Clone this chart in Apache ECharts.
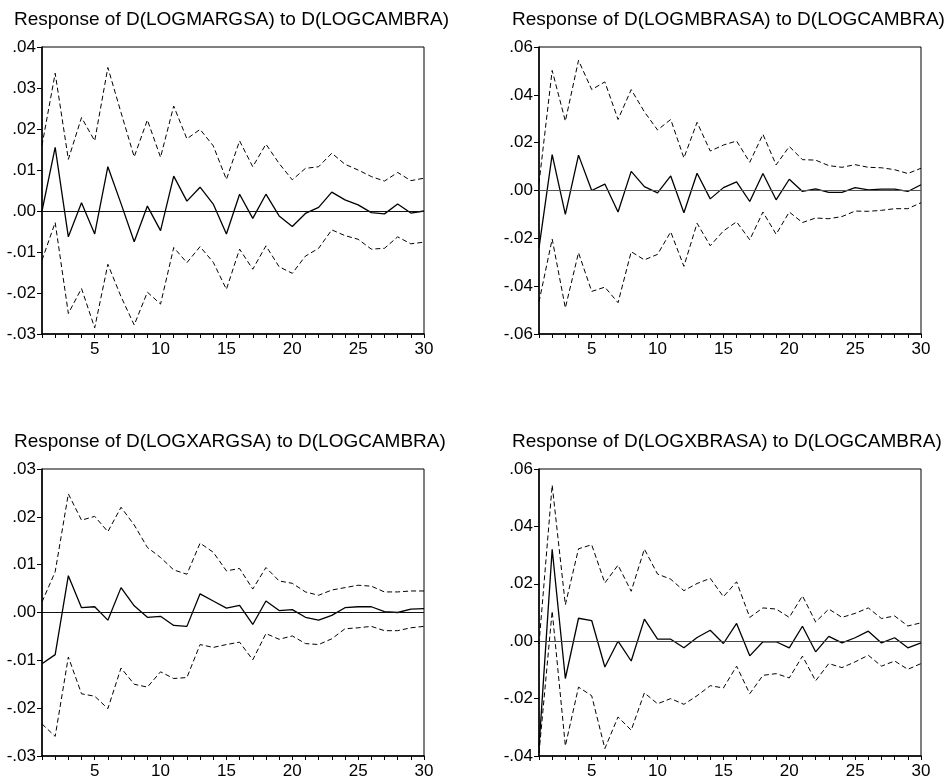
<!DOCTYPE html>
<html>
<head>
<meta charset="UTF-8">
<title>Impulse responses</title>
<style>
  html, body { margin: 0; padding: 0; background: #fff; }
  #container { width: 951px; height: 782px; }
</style>
<script src="https://cdn.jsdelivr.net/npm/echarts@6/dist/echarts.min.js"></script>
</head>
<body>
<div id="container"></div>
<script>
var periods = [1, 2, 3, 4, 5, 6, 7, 8, 9, 10, 11, 12, 13, 14, 15, 16, 17, 18, 19, 20, 21, 22, 23, 24, 25, 26, 27, 28, 29, 30];

var titles = [
  'Response of D(LOGMARGSA) to D(LOGCAMBRA)',
  'Response of D(LOGMBRASA) to D(LOGCAMBRA)',
  'Response of D(LOGXARGSA) to D(LOGCAMBRA)',
  'Response of D(LOGXBRASA) to D(LOGCAMBRA)'
];

// D(LOGMARGSA)
var irfMarg = [0.0000, 0.0155, -0.0063, 0.0020, -0.0056, 0.0108, 0.0018, -0.0075, 0.0012, -0.0048, 0.0085, 0.0024, 0.0058, 0.0017, -0.0056, 0.0041, -0.0018, 0.0041, -0.0012, -0.0038, -0.0006, 0.0009, 0.0046, 0.0027, 0.0015, -0.0004, -0.0007, 0.0017, -0.0005, 0.0000];
var upMarg = [0.0160, 0.0336, 0.0126, 0.0228, 0.0171, 0.0350, 0.0240, 0.0132, 0.0222, 0.0131, 0.0256, 0.0176, 0.0199, 0.0159, 0.0077, 0.0171, 0.0108, 0.0163, 0.0116, 0.0076, 0.0104, 0.0108, 0.0141, 0.0114, 0.0100, 0.0084, 0.0073, 0.0094, 0.0074, 0.0080];
var loMarg = [-0.0120, -0.0028, -0.0250, -0.0189, -0.0285, -0.0130, -0.0209, -0.0278, -0.0198, -0.0227, -0.0089, -0.0126, -0.0087, -0.0125, -0.0191, -0.0093, -0.0142, -0.0085, -0.0136, -0.0152, -0.0110, -0.0091, -0.0046, -0.0060, -0.0069, -0.0093, -0.0091, -0.0063, -0.0080, -0.0076];

// D(LOGMBRASA)
var irfMbra = [-0.0240, 0.0150, -0.0100, 0.0148, 0.0000, 0.0027, -0.0090, 0.0080, 0.0016, -0.0010, 0.0061, -0.0093, 0.0072, -0.0035, 0.0012, 0.0036, -0.0046, 0.0071, -0.0039, 0.0047, -0.0004, 0.0007, -0.0008, -0.0008, 0.0012, 0.0003, 0.0006, 0.0006, -0.0004, 0.0024];
var upMbra = [0.0030, 0.0502, 0.0290, 0.0544, 0.0422, 0.0454, 0.0297, 0.0422, 0.0329, 0.0253, 0.0297, 0.0136, 0.0285, 0.0165, 0.0190, 0.0207, 0.0118, 0.0235, 0.0107, 0.0184, 0.0129, 0.0127, 0.0104, 0.0097, 0.0108, 0.0097, 0.0095, 0.0087, 0.0071, 0.0093];
var loMbra = [-0.0466, -0.0203, -0.0491, -0.0260, -0.0422, -0.0404, -0.0469, -0.0256, -0.0290, -0.0267, -0.0173, -0.0317, -0.0137, -0.0231, -0.0169, -0.0131, -0.0206, -0.0090, -0.0183, -0.0090, -0.0134, -0.0115, -0.0118, -0.0109, -0.0086, -0.0087, -0.0083, -0.0076, -0.0076, -0.0051];

// D(LOGXARGSA)
var irfXarg = [-0.0107, -0.0088, 0.0077, 0.0010, 0.0012, -0.0016, 0.0052, 0.0014, -0.0010, -0.0008, -0.0027, -0.0029, 0.0039, 0.0024, 0.0009, 0.0015, -0.0025, 0.0024, 0.0004, 0.0006, -0.0010, -0.0016, -0.0006, 0.0010, 0.0012, 0.0012, 0.0002, 0.0000, 0.0007, 0.0008];
var upXarg = [0.0022, 0.0085, 0.0248, 0.0193, 0.0201, 0.0169, 0.0220, 0.0183, 0.0136, 0.0115, 0.0089, 0.0080, 0.0145, 0.0126, 0.0087, 0.0092, 0.0049, 0.0094, 0.0066, 0.0061, 0.0043, 0.0036, 0.0047, 0.0052, 0.0057, 0.0055, 0.0043, 0.0043, 0.0045, 0.0045];
var loXarg = [-0.0233, -0.0259, -0.0093, -0.0170, -0.0175, -0.0201, -0.0116, -0.0150, -0.0156, -0.0124, -0.0138, -0.0136, -0.0067, -0.0073, -0.0067, -0.0062, -0.0099, -0.0044, -0.0056, -0.0049, -0.0065, -0.0067, -0.0055, -0.0034, -0.0032, -0.0029, -0.0038, -0.0038, -0.0032, -0.0029];

// D(LOGXBRASA)
var irfXbra = [-0.0370, 0.0320, -0.0130, 0.0080, 0.0072, -0.0090, 0.0000, -0.0069, 0.0077, 0.0007, 0.0007, -0.0023, 0.0013, 0.0038, -0.0008, 0.0062, -0.0051, -0.0002, -0.0002, -0.0023, 0.0052, -0.0037, 0.0017, -0.0006, 0.0012, 0.0035, -0.0006, 0.0012, -0.0023, -0.0006];
var upXbra = [-0.0010, 0.0544, 0.0127, 0.0322, 0.0336, 0.0203, 0.0265, 0.0174, 0.0321, 0.0234, 0.0216, 0.0176, 0.0201, 0.0219, 0.0155, 0.0207, 0.0083, 0.0116, 0.0112, 0.0083, 0.0158, 0.0067, 0.0112, 0.0083, 0.0097, 0.0116, 0.0079, 0.0088, 0.0053, 0.0064];
var loXbra = [-0.0390, 0.0105, -0.0365, -0.0160, -0.0190, -0.0374, -0.0264, -0.0310, -0.0180, -0.0218, -0.0200, -0.0220, -0.0190, -0.0155, -0.0163, -0.0087, -0.0183, -0.0119, -0.0113, -0.0128, -0.0052, -0.0138, -0.0078, -0.0092, -0.0072, -0.0049, -0.0087, -0.0069, -0.0098, -0.0078];

var yMin = [-0.03, -0.06, -0.03, -0.04];
var yMax = [0.04, 0.06, 0.03, 0.06];
var yStep = [0.01, 0.02, 0.01, 0.02];

var panels = [
  [irfMarg, upMarg, loMarg],
  [irfMbra, upMbra, loMbra],
  [irfXarg, upXarg, loXarg],
  [irfXbra, upXbra, loXbra]
];

// grid boxes in px
var grids = [
  { left: 42, top: 47, right: 527, bottom: 448 },
  { left: 539, top: 47, right: 30, bottom: 448 },
  { left: 42, top: 469, right: 527, bottom: 26 },
  { left: 539, top: 469, right: 30, bottom: 26 }
];
var titlePos = [[14, 10], [512, 10], [14, 432], [512, 432]];
var zeroColor = ['#111', '#555', '#111', '#444'];

var font = 'Arial, "Liberation Sans", sans-serif';

function pairs(vals) {
  var out = [];
  for (var i = 0; i < periods.length; i++) out.push([periods[i], vals[i]]);
  return out;
}

function yFmt(v) {
  if (Math.abs(v) < 1e-9) return '.00';
  var s = Math.abs(v).toFixed(2).replace(/^0/, '');
  return (v < 0 ? '-' : '') + s;
}

var option = {
  animation: false,
  backgroundColor: '#fff',
  title: [],
  grid: [],
  xAxis: [],
  yAxis: [],
  series: []
};

for (var k = 0; k < 4; k++) {
  option.title.push({
    text: titles[k],
    left: titlePos[k][0],
    top: titlePos[k][1],
    padding: 0,
    textStyle: { fontFamily: font, fontSize: 19, fontWeight: 'normal', color: '#000' }
  });
  option.grid.push({
    left: grids[k].left, top: grids[k].top, right: grids[k].right, bottom: grids[k].bottom,
    show: true, borderColor: '#000', borderWidth: 1, containLabel: false
  });
  option.xAxis.push({
    type: 'value', gridIndex: k, min: 1, max: 30, interval: 1,
    axisLine: { show: true, onZero: false, lineStyle: { color: '#000', width: 1.5 } },
    axisTick: { show: true, inside: false, length: 4, lineStyle: { color: '#000' } },
    axisLabel: {
      color: '#000', fontFamily: font, fontSize: 17, margin: 7,
      formatter: function (v) { return v % 5 === 0 ? String(v) : ''; }
    },
    splitLine: { show: false }
  });
  option.yAxis.push({
    type: 'value', gridIndex: k, min: yMin[k], max: yMax[k], interval: yStep[k],
    axisLine: { show: true, onZero: false, lineStyle: { color: '#000', width: 1.5 } },
    axisTick: { show: true, inside: false, length: 5, lineStyle: { color: '#000' } },
    axisLabel: { color: '#000', fontFamily: font, fontSize: 17, margin: 6, formatter: yFmt },
    splitLine: { show: false }
  });
  var d = panels[k];
  option.series.push({
    type: 'line', xAxisIndex: k, yAxisIndex: k, data: pairs(d[0]),
    symbol: 'none', lineStyle: { color: '#000', width: 1.3 },
    markLine: {
      silent: true, symbol: 'none', label: { show: false },
      lineStyle: { color: zeroColor[k], type: 'solid', width: 1 },
      data: [{ yAxis: 0 }]
    }
  });
  option.series.push({
    type: 'line', xAxisIndex: k, yAxisIndex: k, data: pairs(d[1]),
    symbol: 'none', lineStyle: { color: '#000', width: 1, type: [5, 3] }
  });
  option.series.push({
    type: 'line', xAxisIndex: k, yAxisIndex: k, data: pairs(d[2]),
    symbol: 'none', lineStyle: { color: '#000', width: 1, type: [5, 3] }
  });
}

var chart = echarts.init(document.getElementById('container'));
chart.setOption(option);
</script>
</body>
</html>
